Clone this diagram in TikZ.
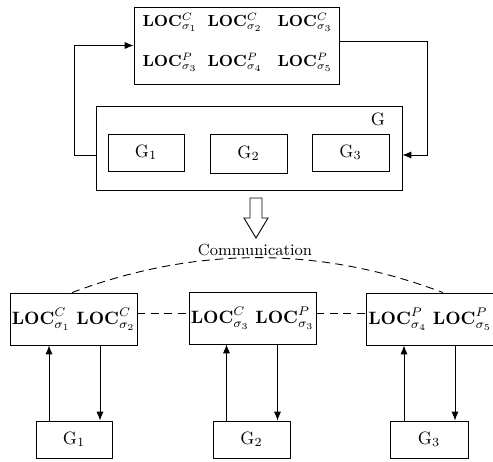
\documentclass[tikz,border=0pt]{standalone}
\usetikzlibrary{arrows.meta}
\def\u{0.56pt}
\begin{document}
\begin{tikzpicture}[x=0.56pt,y=-0.56pt, line width=0.5pt,
  box/.style={draw, inner sep=0pt},
  arr/.style={-{Latex[length=5pt,width=4pt]}},
  dsh/.style={dash pattern=on 4.5pt off 3pt}]
\useasboundingbox (0,0) rectangle (493,462);
% top box
\node[box, minimum width=205*\u, minimum height=77*\u] (top) at (236.5,45.5) {};
\node[anchor=base, font=\small] (t1) at (170,27) {$\mathbf{LOC}^{C}_{\sigma_1}$};
\node[anchor=base, font=\small] (t2) at (235,27) {$\mathbf{LOC}^{C}_{\sigma_2}$};
\node[anchor=base, font=\small] (t3) at (305,27) {$\mathbf{LOC}^{C}_{\sigma_3}$};
\node[anchor=base, font=\small] (t4) at (170,67) {$\mathbf{LOC}^{P}_{\sigma_3}$};
\node[anchor=base, font=\small] (t5) at (235,67) {$\mathbf{LOC}^{P}_{\sigma_4}$};
\node[anchor=base, font=\small] (t6) at (305,67) {$\mathbf{LOC}^{P}_{\sigma_5}$};
% big G box
\node[box, minimum width=306*\u, minimum height=84*\u] (G) at (249,148) {};
\node (Glab) at (378,119) {G};
\node[box, minimum width=76*\u, minimum height=37*\u] (g1) at (146,152.5) {$\mathrm{G}_1$};
\node[box, minimum width=77*\u, minimum height=39*\u] (g2) at (248.5,153.5) {$\mathrm{G}_2$};
\node[box, minimum width=77*\u, minimum height=37*\u] (g3) at (350.5,152.5) {$\mathrm{G}_3$};
% feedback connectors
\draw[arr] ([yshift=-7*\u]G.west) -- ++(-21,0) |- (top.west);
\draw[arr] ([yshift=4.5*\u]top.east) -- ++(88,0) |- ([yshift=-7*\u]G.east);
% open arrow
\draw (250,198) -- (262,198) -- (262,218) -- (268,218) -- (256,238) -- (244,218) -- (250,218) -- cycle;
% communication
\node[font=\small] (comm) at (255,250) {Communication};
% bottom boxes
\node[box, minimum width=127*\u, minimum height=52*\u] (b1) at (73.5,319) {$\mathbf{LOC}^{C}_{\sigma_1}$ $\mathbf{LOC}^{C}_{\sigma_2}$};
\node[box, minimum width=127*\u, minimum height=52*\u] (b2) at (252.5,318) {$\mathbf{LOC}^{C}_{\sigma_3}$ $\mathbf{LOC}^{P}_{\sigma_3}$};
\node[box, minimum width=128*\u, minimum height=52*\u] (b3) at (430,319) {$\mathbf{LOC}^{P}_{\sigma_4}$ $\mathbf{LOC}^{P}_{\sigma_5}$};
\draw[dsh] ([yshift=6*\u]b1.east) -- ([yshift=6*\u]b1.east -| b2.west);
\draw[dsh] ([yshift=5*\u]b2.east) -- ([yshift=5*\u]b2.east -| b3.west);
\draw[dsh] ([xshift=-1.5*\u]b1.north) .. controls (196,246) and (320,246) .. ([xshift=13*\u]b3.north);
% bottom G boxes
\node[box, minimum width=76*\u, minimum height=37*\u] (bg1) at (74,439.5) {$\mathrm{G}_1$};
\node[box, minimum width=77*\u, minimum height=37*\u] (bg2) at (251.5,439.5) {$\mathrm{G}_2$};
\node[box, minimum width=78*\u, minimum height=37*\u] (bg3) at (429,439.5) {$\mathrm{G}_3$};
\foreach \i in {1,2,3}{
  \draw[arr] ([xshift=-25*\u]bg\i.north) -- ([xshift=-25*\u]bg\i.north |- b\i.south);
  \draw[arr] ([xshift=26*\u]bg\i.north |- b\i.south) -- ([xshift=26*\u]bg\i.north);
}
\end{tikzpicture}
\end{document}
